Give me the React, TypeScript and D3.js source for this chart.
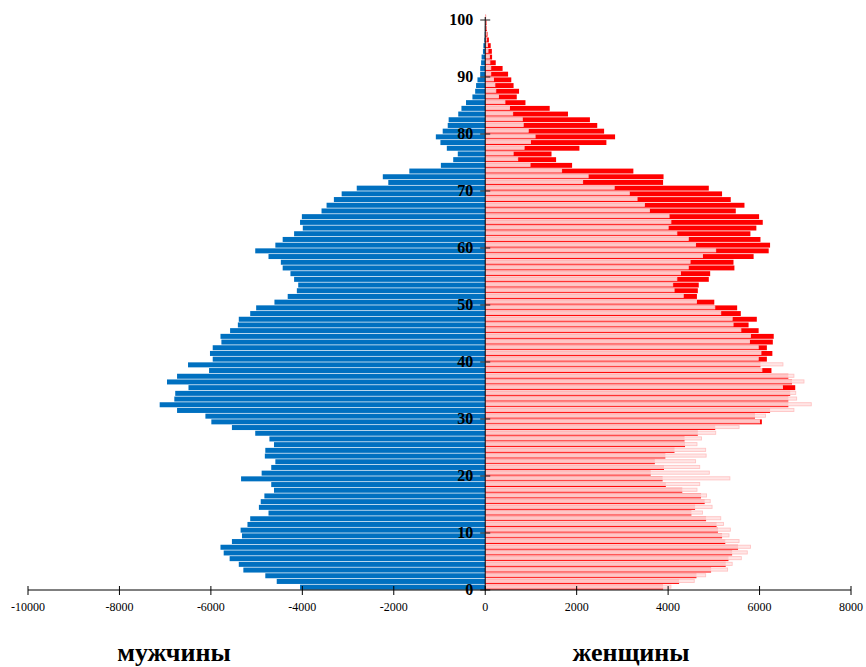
import React from 'react';
import * as d3 from 'd3';

// population by single year of age, 0..100
const maleValues = [
  4050, 4560, 4810, 5290, 5390, 5590, 5720, 5790, 5540, 5320,
  5350, 5200, 5140, 4740, 4950, 4910, 4830, 4620, 4680, 5340,
  4890, 4680, 4590, 4820, 4810, 4620, 4720, 5030, 5540, 5990,
  6120, 6740, 7120, 6800, 6780, 6490, 6960, 6740, 6040, 6500,
  5960, 6020, 5960, 5770, 5790, 5580, 5410, 5390, 5140, 5010,
  4610, 4320, 4120, 4090, 4180, 4260, 4430, 4470, 4740, 5030,
  4590, 4430, 4180, 3990, 4050, 4010, 3580, 3470, 3310, 3140,
  2810, 2120, 2240, 1660, 970, 700, 600, 840, 980, 1080,
  930, 820, 800, 590, 520, 420, 280, 220, 200, 170,
  110, 110, 90, 80, 50, 40, 20, 12, 8, 5,
  3,
];

const femaleValues = [
  3890, 4240, 4620, 4940, 5260, 5320, 5400, 5530, 5250, 5180,
  5090, 5060, 4830, 4510, 4590, 4800, 4720, 4310, 3950, 3880,
  3620, 3910, 3710, 3940, 4140, 4370, 4360, 4650, 5030, 6050,
  5900, 6230, 6630, 6630, 6670, 6780, 6710, 6630, 6260, 6020,
  6160, 6280, 6160, 6290, 6310, 5980, 5760, 5940, 5590, 5510,
  5010, 4630, 4650, 4670, 4890, 4920, 5450, 5430, 5870, 6200,
  6230, 6020, 5800, 5930, 6070, 5990, 5480, 5670, 5370, 5180,
  4890, 3890, 3900, 3240, 1900, 1550, 1450, 2060, 2650, 2840,
  2600, 2450, 2290, 1810, 1410, 880, 690, 740, 620, 570,
  500, 380, 230, 150, 145, 120, 80, 50, 36, 30,
  15,
];

const ageTicks = [0, 10, 20, 30, 40, 50, 60, 70, 80, 90, 100];
const valueTicks = [-10000, -8000, -6000, -4000, -2000, 0, 2000, 4000, 6000, 8000];
const sideLabels = ['мужчины', 'женщины'];

const W = 866;
const H = 667;
const FONT = '"Liberation Serif", "Times New Roman", serif';

export default function App() {
  const ages = d3.range(maleValues.length);

  const x = d3.scaleLinear().domain([-10000, 8000]).range([28, 851]);
  const y = d3.scaleLinear().domain([0, 100]).range([590, 20]);
  const x0 = x(0);
  const band = y(0) - y(1);

  return (
    <svg
      width={W}
      height={H}
      style={{ position: 'absolute', left: 0, top: 0, background: '#fff' }}
      fontFamily={FONT}
    >
      {/* male bars */}
      {ages.map(a => (
        <rect
          key={'m' + a}
          x={x(-maleValues[a])}
          y={y(a + 1) + 0.35}
          width={x0 - x(-maleValues[a])}
          height={band - 0.7}
          fill="#0070c0"
        />
      ))}

      {/* female bars */}
      {ages.map(a => (
        <rect
          key={'f' + a}
          x={x0}
          y={y(a + 1) + 0.4}
          width={x(femaleValues[a]) - x0}
          height={band - 0.8}
          fill="#ff0000"
        />
      ))}

      {/* male mirrored over female side */}
      {ages.map(a => (
        <rect
          key={'o' + a}
          x={x0 + 0.5}
          y={y(a + 1) + 0.8}
          width={x(maleValues[a]) - x0}
          height={band - 2.6}
          fill="#ffe3e3"
          fillOpacity={0.88}
          stroke="#ffc4c4"
          strokeWidth={0.9}
        />
      ))}

      {/* vertical axis */}
      <line x1={x0} x2={x0} y1={y(100) - 3} y2={y(0)} stroke="#000" strokeWidth={1} />
      {ageTicks.map(t => (
        <g key={'yt' + t}>
          <line x1={x0 - 5} x2={x0 + 5} y1={y(t)} y2={y(t)} stroke="#222" strokeWidth={1} />
          <text
            x={x0 - 12}
            y={y(t) + 5}
            textAnchor="end"
            fontSize={16}
            fontWeight="bold"
            fill="#000"
          >
            {t}
          </text>
        </g>
      ))}

      {/* horizontal axis */}
      <line x1={x(-10000)} x2={x(8000)} y1={y(0)} y2={y(0)} stroke="#000" strokeWidth={1} />
      {valueTicks.map(t => (
        <g key={'xt' + t}>
          <line x1={x(t)} x2={x(t)} y1={y(0) - 4} y2={y(0) + 5} stroke="#000" strokeWidth={1} />
          <text x={x(t)} y={y(0) + 21} textAnchor="middle" fontSize={12} fill="#000">
            {t}
          </text>
        </g>
      ))}

      <text x={174} y={661} textAnchor="middle" fontSize={26} fontWeight="bold" fill="#000">
        {sideLabels[0]}
      </text>
      <text x={631} y={661} textAnchor="middle" fontSize={26} fontWeight="bold" fill="#000">
        {sideLabels[1]}
      </text>
    </svg>
  );
}
